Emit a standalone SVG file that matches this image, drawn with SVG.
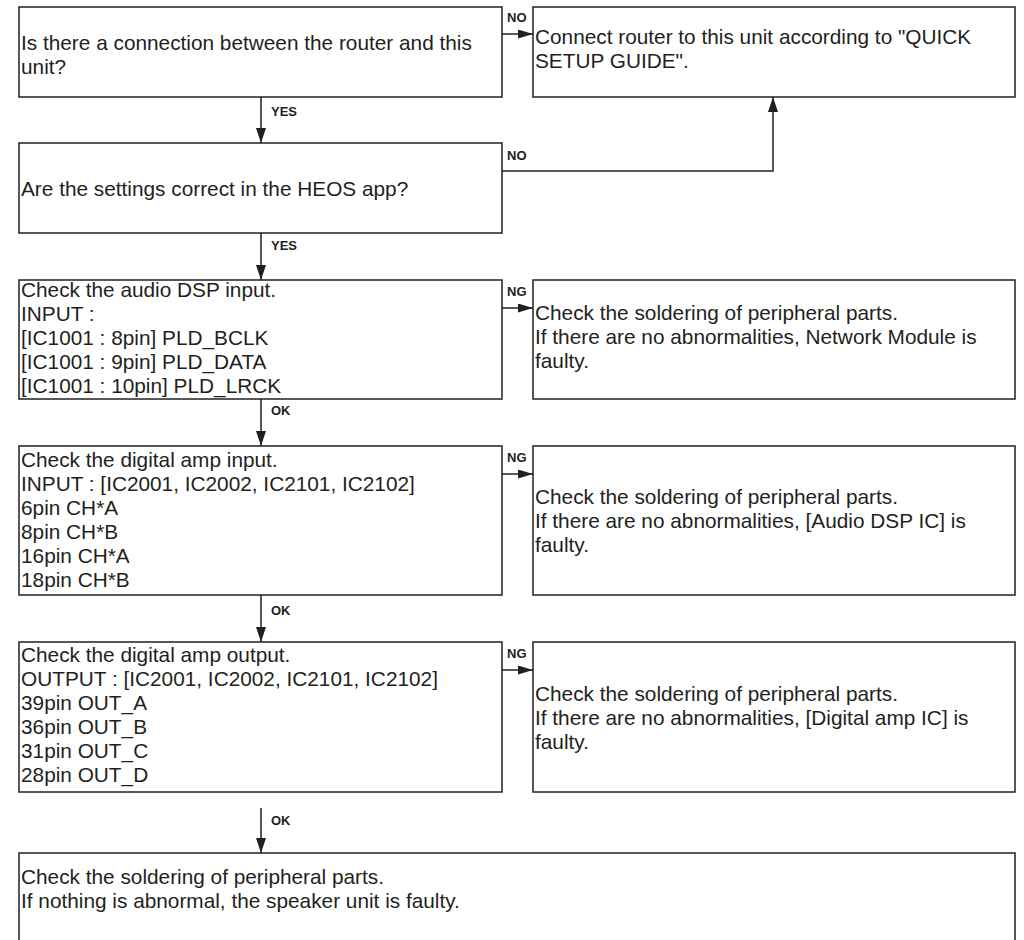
<svg xmlns="http://www.w3.org/2000/svg" width="1024" height="940" viewBox="0 0 1024 940">
<style>
.box{fill:#fff;stroke:#231f20;stroke-width:1.5}
.t{font-family:"Liberation Sans",Arial,sans-serif;font-size:20.8px;fill:#231f20}
.lb{font-family:"Liberation Sans",Arial,sans-serif;font-size:13px;font-weight:bold;fill:#231f20}
.c{fill:none;stroke:#231f20;stroke-width:1.5}
</style>
<defs>
<marker id="ah" markerUnits="userSpaceOnUse" viewBox="0 0 15 9" refX="15" refY="4.5" markerWidth="15" markerHeight="9" orient="auto"><path d="M0,0 L15,4.5 L0,9 z" fill="#231f20"/></marker>
<marker id="av" markerUnits="userSpaceOnUse" viewBox="0 0 15 10" refX="15" refY="5" markerWidth="15" markerHeight="10" orient="auto"><path d="M0,0 L15,5 L0,10 z" fill="#231f20"/></marker>
</defs>

<g id="connectors">
<line class="c" x1="502" y1="34" x2="533" y2="34" marker-end="url(#ah)"/>
<text class="lb" x="507" y="22">NO</text>
<line class="c" x1="261" y1="97" x2="261" y2="143" marker-end="url(#av)"/>
<text class="lb" x="271" y="116">YES</text>
<polyline class="c" points="502,171 773,171 773,97" marker-end="url(#av)"/>
<text class="lb" x="507" y="160">NO</text>
<line class="c" x1="261" y1="233" x2="261" y2="280" marker-end="url(#av)"/>
<text class="lb" x="271" y="250">YES</text>
<line class="c" x1="502" y1="308" x2="533" y2="308" marker-end="url(#ah)"/>
<text class="lb" x="507" y="296">NG</text>
<line class="c" x1="261" y1="399" x2="261" y2="446" marker-end="url(#av)"/>
<text class="lb" x="271" y="415">OK</text>
<line class="c" x1="502" y1="474" x2="533" y2="474" marker-end="url(#ah)"/>
<text class="lb" x="507" y="462">NG</text>
<line class="c" x1="261" y1="595" x2="261" y2="642" marker-end="url(#av)"/>
<text class="lb" x="271" y="615">OK</text>
<line class="c" x1="502" y1="670" x2="533" y2="670" marker-end="url(#ah)"/>
<text class="lb" x="507" y="658">NG</text>
<line class="c" x1="261" y1="808" x2="261" y2="853" marker-end="url(#av)"/>
<text class="lb" x="271" y="825">OK</text>
</g>

<g id="n1">
<rect class="box" x="19" y="7" width="483" height="90"/>
<text class="t" x="21" y="50">Is there a connection between the router and this</text>
<text class="t" x="21" y="74">unit?</text>
</g>
<g id="n2">
<rect class="box" x="533" y="7" width="482" height="90"/>
<text class="t" x="535" y="44">Connect router to this unit according to "QUICK</text>
<text class="t" x="535" y="68">SETUP GUIDE".</text>
</g>
<g id="n3">
<rect class="box" x="19" y="143" width="483" height="90"/>
<text class="t" x="21" y="196">Are the settings correct in the HEOS app?</text>
</g>
<g id="n4">
<rect class="box" x="19" y="280" width="483" height="119"/>
<text class="t" x="21" y="297">Check the audio DSP input.</text>
<text class="t" x="21" y="321">INPUT :</text>
<text class="t" x="21" y="345">[IC1001 : 8pin] PLD_BCLK</text>
<text class="t" x="21" y="369">[IC1001 : 9pin] PLD_DATA</text>
<text class="t" x="21" y="393">[IC1001 : 10pin] PLD_LRCK</text>
</g>
<g id="n5">
<rect class="box" x="533" y="280" width="482" height="119"/>
<text class="t" x="535" y="320">Check the soldering of peripheral parts.</text>
<text class="t" x="535" y="344">If there are no abnormalities, Network Module is</text>
<text class="t" x="535" y="368">faulty.</text>
</g>
<g id="n6">
<rect class="box" x="19" y="446" width="483" height="149"/>
<text class="t" x="21" y="467">Check the digital amp input.</text>
<text class="t" x="21" y="491">INPUT : [IC2001, IC2002, IC2101, IC2102]</text>
<text class="t" x="21" y="515">6pin CH*A</text>
<text class="t" x="21" y="539">8pin CH*B</text>
<text class="t" x="21" y="563">16pin CH*A</text>
<text class="t" x="21" y="587">18pin CH*B</text>
</g>
<g id="n7">
<rect class="box" x="533" y="446" width="482" height="149"/>
<text class="t" x="535" y="504">Check the soldering of peripheral parts.</text>
<text class="t" x="535" y="528">If there are no abnormalities, [Audio DSP IC] is</text>
<text class="t" x="535" y="552">faulty.</text>
</g>
<g id="n8">
<rect class="box" x="19" y="642" width="483" height="150"/>
<text class="t" x="21" y="662">Check the digital amp output.</text>
<text class="t" x="21" y="686">OUTPUT : [IC2001, IC2002, IC2101, IC2102]</text>
<text class="t" x="21" y="710">39pin OUT_A</text>
<text class="t" x="21" y="734">36pin OUT_B</text>
<text class="t" x="21" y="758">31pin OUT_C</text>
<text class="t" x="21" y="782">28pin OUT_D</text>
</g>
<g id="n9">
<rect class="box" x="533" y="642" width="482" height="150"/>
<text class="t" x="535" y="701">Check the soldering of peripheral parts.</text>
<text class="t" x="535" y="725">If there are no abnormalities, [Digital amp IC] is</text>
<text class="t" x="535" y="749">faulty.</text>
</g>
<g id="n10">
<rect class="box" x="19" y="853" width="996" height="110"/>
<text class="t" x="21" y="884">Check the soldering of peripheral parts.</text>
<text class="t" x="21" y="908">If nothing is abnormal, the speaker unit is faulty.</text>
</g>
</svg>
